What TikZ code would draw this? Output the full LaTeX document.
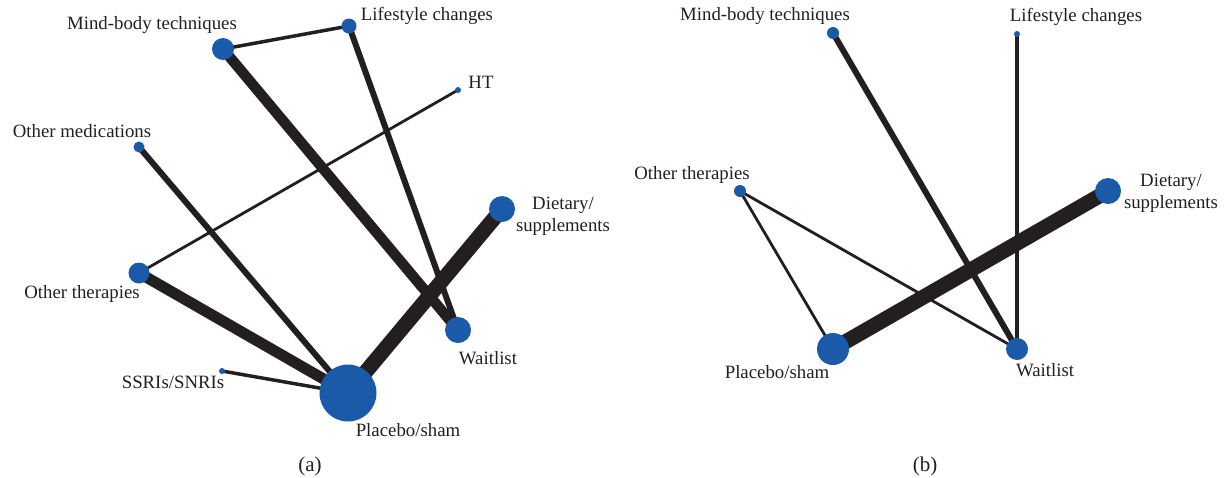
\documentclass[tikz,border=0pt]{standalone}
\usepackage{fontspec}
\setmainfont{Liberation Serif}
\usetikzlibrary{backgrounds}
\definecolor{nodeblue}{RGB}{26,90,168}
\definecolor{edgecol}{RGB}{35,31,32}
\definecolor{txtcol}{RGB}{35,31,32}
\begin{document}
\begin{tikzpicture}[x=1pt,y=-1pt,
  nd/.style={circle,fill=nodeblue,draw=none,inner sep=0pt,minimum size=#1},
  lbl/.style={inner sep=0pt,text=txtcol,font=\fontsize{18.8}{22}\selectfont,align=center},
  captionlbl/.style={inner sep=0pt,text=txtcol,font=\fontsize{21}{24}\selectfont},
  ed/.style={draw=edgecol,line width=#1}]
\useasboundingbox (0,0) rectangle (1225,477);
% ---------- panel (a) ----------
\node[nd=22pt] (amb) at (223,49) {};
\node[nd=15pt] (als) at (349,26) {};
\node[nd=6pt]  (aht) at (458,90) {};
\node[nd=11pt] (aom) at (139,147) {};
\node[nd=26pt] (adi) at (502,209) {};
\node[nd=21pt] (aot) at (139,273) {};
\node[nd=26pt] (awl) at (458,330) {};
\node[nd=6pt]  (ass) at (222,371) {};
\node[nd=57pt] (apl) at (348,393) {};
\node[lbl] (lamb) at (152,25) {Mind-body techniques};
\node[lbl] (lals) at (427,16) {Lifestyle changes};
\node[lbl] (laht) at (481,82) {HT};
\node[lbl] (laom) at (82,131) {Other medications};
\node[lbl] (ladi) at (563,216) {Dietary/\\supplements};
\node[lbl] (laot) at (82,294) {Other therapies};
\node[lbl] (lass) at (173,382) {SSRIs/SNRIs};
\node[lbl] (lawl) at (488,358) {Waitlist};
\node[lbl] (lapl) at (408,430) {Placebo/sham};
\node[captionlbl] (capa) at (310,466) {(a)};
% ---------- panel (b) ----------
\node[nd=12pt] (bmb) at (833,33) {};
\node[nd=6pt]  (bls) at (1017,34) {};
\node[nd=12pt] (bot) at (740,191) {};
\node[nd=26pt] (bdi) at (1108,191) {};
\node[nd=32pt] (bpl) at (833,349) {};
\node[nd=22pt] (bwl) at (1017,349) {};
\node[lbl] (lbmb) at (765,16) {Mind-body techniques};
\node[lbl] (lbls) at (1076,17) {Lifestyle changes};
\node[lbl] (lbot) at (692,175) {Other therapies};
\node[lbl] (lbdi) at (1171,193) {Dietary/\\supplements};
\node[lbl] (lbpl) at (777,372) {Placebo/sham};
\node[lbl] (lbwl) at (1045,370) {Waitlist};
\node[captionlbl] (capb) at (925,466) {(b)};
\begin{pgfonlayer}{background}
  % panel (a) edges
  \draw[ed=3.5pt] (amb.center) -- (als.center);
  \draw[ed=10.5pt] (amb.center) -- (awl.center);
  \draw[ed=6pt] (als.center) -- (awl.center);
  \draw[ed=2.8pt] (aht.center) -- (aot.center);
  \draw[ed=6pt] (aom.center) -- (apl.center);
  \draw[ed=11pt] (aot.center) -- (apl.center);
  \draw[ed=15pt] (adi.center) -- (apl.center);
  \draw[ed=3.5pt] (ass.center) -- (apl.center);
  % panel (b) edges
  \draw[ed=6pt] (bmb.center) -- (bwl.center);
  \draw[ed=3.5pt] (bls.center) -- (bwl.center);
  \draw[ed=2.8pt] (bot.center) -- (bpl.center);
  \draw[ed=2.8pt] (bot.center) -- (bwl.center);
  \draw[ed=15pt] (bpl.center) -- (bdi.center);
\end{pgfonlayer}
\end{tikzpicture}
\end{document}
